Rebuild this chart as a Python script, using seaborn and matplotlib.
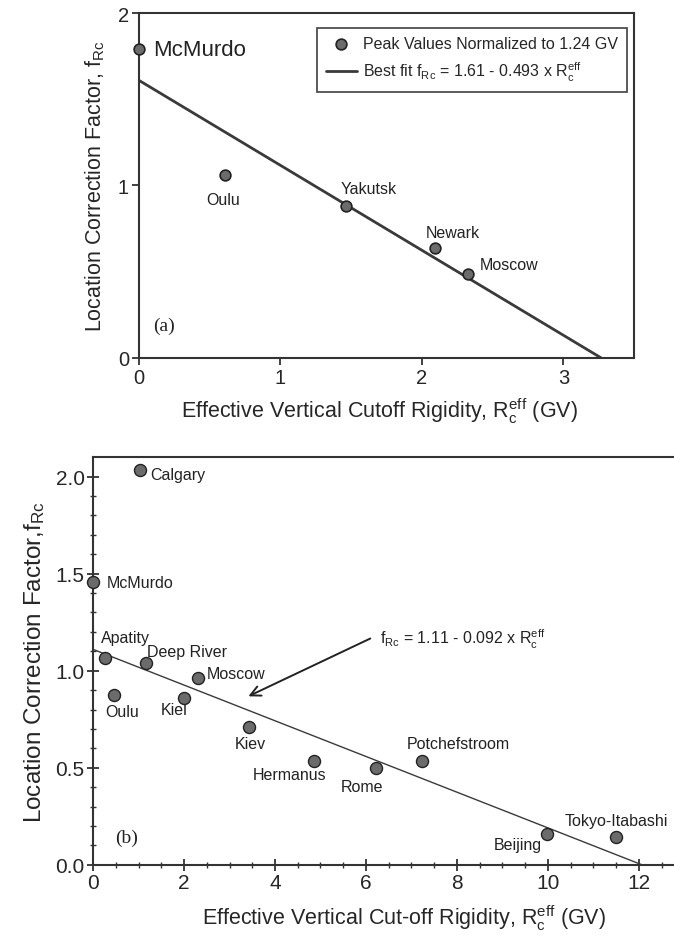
import numpy as np
import pandas as pd
import matplotlib
matplotlib.use("Agg")
import matplotlib.pyplot as plt
import seaborn as sns

# Panel (a): peak values normalized to 1.24 GV
stations_a = ["McMurdo", "Oulu", "Yakutsk", "Newark", "Moscow"]
rc_a = [0.0, 0.61, 1.465, 2.09, 2.325]
f_a = [1.79, 1.06, 0.88, 0.64, 0.487]
fit_a = (1.61, -0.493)

# Panel (b): neutron monitor stations
stations_b = ["Calgary", "McMurdo", "Apatity", "Deep River", "Moscow", "Oulu",
              "Kiel", "Kiev", "Hermanus", "Rome", "Potchefstroom", "Beijing",
              "Tokyo-Itabashi"]
rc_b = [1.03, 0.0, 0.27, 1.16, 2.30, 0.47, 1.99, 3.43, 4.85, 6.23, 7.24, 9.97, 11.50]
f_b = [2.034, 1.457, 1.064, 1.040, 0.964, 0.876, 0.860, 0.709, 0.534, 0.497,
       0.534, 0.159, 0.142]
fit_b = (1.11, -0.092)

sns.set_style("ticks")
plt.rcParams["font.family"] = ["Liberation Sans", "DejaVu Sans"]
plt.rcParams["mathtext.default"] = "regular"

DARK = "#333333"
DOT = "#6b6b6b"
TXT = "#222222"

fig = plt.figure(figsize=(6.74, 9.37), dpi=100)

# ---------------- panel (a) ----------------
ax1 = fig.add_axes([0.206, 0.617, 0.735, 0.368])
df_a = pd.DataFrame({"rc": rc_a, "f": f_a, "station": stations_a})
x_end = -fit_a[0] / fit_a[1]
line_a = pd.DataFrame({"rc": [0.0, x_end], "f": [fit_a[0], 0.0]})
sns.lineplot(data=line_a, x="rc", y="f", ax=ax1, color="#3a3a3a", lw=2,
             label=r"Best fit f$_{Rc}$ = 1.61 - 0.493 x R$_c^{eff}$")
sns.scatterplot(data=df_a, x="rc", y="f", ax=ax1, s=60, color=DOT,
                edgecolor=TXT, linewidth=1.2, zorder=5, clip_on=False,
                label="Peak Values Normalized to 1.24 GV")
ax1.set_xlim(0, 3.5)
ax1.set_ylim(0, 2)
ax1.set_xticks([0, 1, 2, 3])
ax1.set_yticks([0, 1, 2])
ax1.tick_params(direction="out", length=5, width=1.3, color=DARK,
                labelsize=14.5, pad=2)
for sp in ax1.spines.values():
    sp.set_linewidth(1.5)
    sp.set_color(DARK)
ax1.set_xlabel(r"Effective Vertical Cutoff Rigidity, R$_c^{eff}$ (GV)",
               fontsize=15.5)
ax1.xaxis.set_label_coords(0.485, -0.11, transform=ax1.transAxes)
ax1.set_ylabel(r"Location Correction Factor, f$_{Rc}$", fontsize=15.5, labelpad=8)

h, l = ax1.get_legend_handles_labels()
leg = ax1.legend(h[::-1], l[::-1], loc="upper right", bbox_to_anchor=(0.985, 0.958),
                 fontsize=11.5, frameon=True, fancybox=False, edgecolor=TXT,
                 handlelength=1.9, handletextpad=0.4, borderpad=0.55,
                 labelspacing=0.55, borderaxespad=0)
leg.get_frame().set_linewidth(1.3)

labels_a = {
    "McMurdo": (0.10, 1.79, "left", 16),
    "Oulu": (0.594, 0.92, "center", 11.5),
    "Yakutsk": (1.625, 0.985, "center", 11.5),
    "Newark": (2.215, 0.73, "center", 11.5),
    "Moscow": (2.41, 0.54, "left", 11.5),
}
for name, (tx, ty, ha, fs) in labels_a.items():
    ax1.text(tx, ty, name, ha=ha, va="center", fontsize=fs, color=TXT)
ax1.text(0.1, 0.19, "(a)", fontsize=14, family=["Liberation Serif"],
         va="center", ha="left", color=TXT)

# ---------------- panel (b) ----------------
ax2 = fig.add_axes([0.138, 0.076, 0.862, 0.435])
df_b = pd.DataFrame({"rc": rc_b, "f": f_b, "station": stations_b})
x_end_b = -fit_b[0] / fit_b[1]
line_b = pd.DataFrame({"rc": [0.0, x_end_b], "f": [fit_b[0], 0.0]})
sns.lineplot(data=line_b, x="rc", y="f", ax=ax2, color="#3a3a3a", lw=1.0)
sns.scatterplot(data=df_b, x="rc", y="f", ax=ax2, s=75, color=DOT,
                edgecolor=TXT, linewidth=1.0, zorder=5, clip_on=False)
ax2.set_xlim(0, 12.77)
ax2.set_ylim(0, 2.1)
ax2.set_xticks(np.arange(0, 13, 2))
ax2.set_xticks(np.arange(0, 12.6, 0.5), minor=True)
ax2.set_yticks([0.0, 0.5, 1.0, 1.5, 2.0])
ax2.set_yticks(np.arange(0, 2.1, 0.1), minor=True)
ax2.yaxis.set_major_formatter(matplotlib.ticker.FormatStrFormatter("%.1f"))
ax2.tick_params(which="major", direction="inout", length=8, width=1.3,
                color=DARK, labelsize=15, pad=2)
ax2.tick_params(which="minor", direction="inout", length=4, width=1.0, color=DARK)
ax2.spines["right"].set_visible(False)
for sp in ["left", "top", "bottom"]:
    ax2.spines[sp].set_linewidth(1.5)
    ax2.spines[sp].set_color(DARK)
ax2.set_xlabel(r"Effective Vertical Cut-off Rigidity, R$_c^{eff}$ (GV)",
               fontsize=15.5)
ax2.xaxis.set_label_coords(0.535, -0.093, transform=ax2.transAxes)
ax2.set_ylabel(r"Location Correction Factor,f$_{Rc}$", fontsize=17.5, labelpad=6)

labels_b = {
    "Calgary": (1.26, 2.012, "left"),
    "McMurdo": (0.31, 1.453, "left"),
    "Apatity": (0.72, 1.169, "center"),
    "Deep River": (1.18, 1.098, "left"),
    "Moscow": (2.49, 0.988, "left"),
    "Oulu": (0.64, 0.788, "center"),
    "Kiel": (1.78, 0.798, "center"),
    "Kiev": (3.46, 0.624, "center"),
    "Hermanus": (4.31, 0.466, "center"),
    "Rome": (5.92, 0.402, "center"),
    "Potchefstroom": (8.02, 0.624, "center"),
    "Beijing": (9.34, 0.106, "center"),
    "Tokyo-Itabashi": (11.51, 0.228, "center"),
}
for name, (tx, ty, ha) in labels_b.items():
    ax2.text(tx, ty, name, ha=ha, va="center", fontsize=11.5, color=TXT)

ax2.annotate("", xy=(3.36, 0.862), xytext=(6.15, 1.172),
             arrowprops=dict(arrowstyle="->", color=TXT, lw=1.4,
                             mutation_scale=18))
ax2.text(6.31, 1.164, r"f$_{Rc}$ = 1.11 - 0.092 x R$_c^{eff}$", fontsize=11.5,
         va="center", ha="left", color=TXT)
ax2.text(0.48, 0.142, "(b)", fontsize=14, family=["Liberation Serif"],
         va="center", ha="left", color=TXT)

fig.savefig("out.png", dpi=100, facecolor="white")
